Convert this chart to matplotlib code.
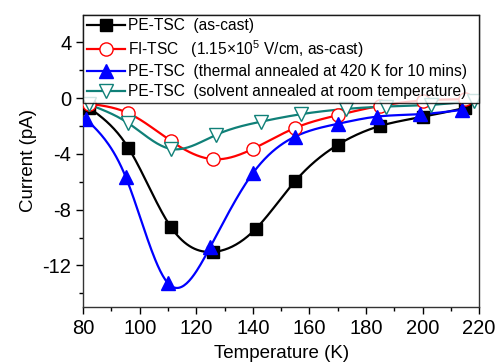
import numpy as np
import matplotlib
matplotlib.use("Agg")
import matplotlib.pyplot as plt

plt.rcParams['font.family'] = ['Liberation Sans', 'DejaVu Sans']
plt.rcParams['mathtext.fontset'] = 'custom'
plt.rcParams['mathtext.rm'] = 'Liberation Sans'
plt.rcParams['axes.unicode_minus'] = False

# Data
T_asc = [82, 96, 111, 126, 141, 155, 170, 185, 200, 215]
I_asc = [-0.67, -3.57, -9.24, -11.03, -9.38, -5.94, -3.35, -1.99, -1.34, -0.70]

T_fi = [82, 96, 111, 126, 140, 155, 170, 185, 200, 215]
I_fi = [-0.40, -1.08, -3.07, -4.38, -3.64, -2.13, -1.22, -0.55, -0.17, -0.07]

T_th = [81, 95, 110, 125, 140, 155, 170, 184, 199, 214]
I_th = [-1.50, -5.63, -13.28, -10.65, -5.38, -2.75, -1.84, -1.32, -1.15, -0.84]

T_sv = [82, 96, 111, 127, 143, 157, 173, 187, 203, 218]
I_sv = [-0.45, -1.80, -3.64, -2.63, -1.68, -1.15, -0.77, -0.60, -0.48, -0.20]

labels = ["PE-TSC  (as-cast)",
          "FI-TSC   (1.15\u00d710$^5$ V/cm, as-cast)",
          "PE-TSC  (thermal annealed at 420 K for 10 mins)",
          "PE-TSC  (solvent annealed at room temperature)"]


def smooth(x, y, n=300):
    """Natural cubic spline through the data points (for drawing the line only)."""
    x = np.asarray(x, float); y = np.asarray(y, float)
    m = len(x); h = np.diff(x)
    A = np.zeros((m, m)); b = np.zeros(m)
    A[0, 0] = 1; A[-1, -1] = 1
    for i in range(1, m - 1):
        A[i, i - 1] = h[i - 1]; A[i, i] = 2 * (h[i - 1] + h[i]); A[i, i + 1] = h[i]
        b[i] = 3 * ((y[i + 1] - y[i]) / h[i] - (y[i] - y[i - 1]) / h[i - 1])
    c = np.linalg.solve(A, b)
    xs = np.linspace(x[0], x[-1], n); ys = np.empty_like(xs)
    for k, xv in enumerate(xs):
        i = min(np.searchsorted(x, xv, side='right') - 1, m - 2)
        dx = xv - x[i]
        bi = (y[i + 1] - y[i]) / h[i] - h[i] * (c[i + 1] + 2 * c[i]) / 3
        di = (c[i + 1] - c[i]) / (3 * h[i])
        ys[k] = y[i] + bi * dx + c[i] * dx ** 2 + di * dx ** 3
    return xs, ys


fig = plt.figure(figsize=(4.95, 3.64), dpi=100)
ax = fig.add_axes([0.168, 0.156, 0.800, 0.804])

series = [
    (T_asc, I_asc, 'black', 's', 'black', 8.5),
    (T_fi, I_fi, '#ff0000', 'o', 'white', 9.5),
    (T_th, I_th, '#0000ff', '^', '#0000ff', 10),
    (T_sv, I_sv, '#108078', 'v', 'white', 10),
]
handles = []
for (x, y, col, mk, fc, ms), lab in zip(series, labels):
    xs, ys = smooth(x, y)
    ax.plot(xs, ys, color=col, lw=1.6, zorder=2)
    ax.plot(x, y, ls='none', marker=mk, ms=ms, mfc=fc, mec=col, mew=1.0, zorder=3)
    h, = ax.plot([], [], color=col, lw=1.6, marker=mk, ms=ms, mfc=fc, mec=col, mew=1.0)
    handles.append(h)

ax.set_xlim(80, 220)
ax.set_ylim(-15, 6)
ax.set_xticks(np.arange(80, 221, 20))
ax.set_xticks(np.arange(90, 220, 20), minor=True)
ax.set_yticks([-12, -8, -4, 0, 4])
ax.set_yticks([-14, -10, -6, -2, 2], minor=True)
ax.tick_params(axis='both', which='major', direction='out', length=5, width=1, labelsize=14.5)
ax.tick_params(axis='both', which='minor', direction='out', length=3, width=1)
for s in ax.spines.values():
    s.set_linewidth(1.0)
    s.set_color('#333333')

ax.set_xlabel("Temperature (K)", fontsize=13.5, labelpad=5)
ax.set_ylabel("Current (pA)", fontsize=13.5, labelpad=4)

leg = ax.legend(handles, labels, loc='upper left', bbox_to_anchor=(0, 0, 1, 1),
                mode='expand', fontsize=11.2, frameon=True,
                fancybox=False, edgecolor='black', handlelength=2.45,
                handletextpad=0.2, labelspacing=0.3, borderpad=0.25,
                borderaxespad=0.0)
leg.get_frame().set_linewidth(1.0)

fig.savefig("out.png", dpi=100)
